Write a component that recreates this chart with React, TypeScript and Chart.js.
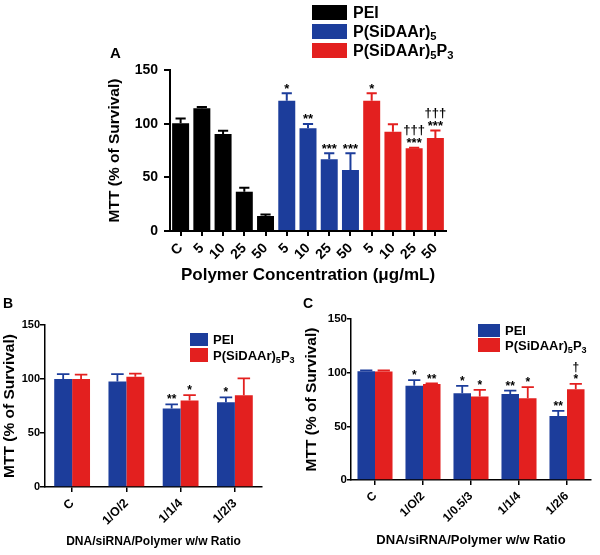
import React, { useEffect, useRef } from "react";
import { Chart, registerables } from "chart.js";
Chart.register(...registerables);

const FONT = "'Liberation Sans', Arial, Helvetica, sans-serif";
const BLACK = "#000000";
const BLUE = "#1c3d9b";
const RED = "#e3201f";

// ---------- Panel A ----------
const labelsA = ["C", "5", "10", "25", "50", "5", "10", "25", "50", "5", "10", "25", "50"];
const peiA = [100.3, 114.3, 90.4, 36.6, 14, null, null, null, null, null, null, null, null];
const peiErrA = [4.5, 1.2, 3, 3.7, 1.4, 0, 0, 0, 0, 0, 0, 0, 0];
const siA = [null, null, null, null, null, 121.4, 95.7, 66.8, 56.8, null, null, null, null];
const siErrA = [0, 0, 0, 0, 0, 7, 4, 5.6, 15.6, 0, 0, 0, 0];
const sipA = [null, null, null, null, null, null, null, null, null, 121.4, 92.5, 77, 86.6];
const sipErrA = [0, 0, 0, 0, 0, 0, 0, 0, 0, 7, 7, 0.5, 7];
const peiStarA = ["", "", "", "", "", "", "", "", "", "", "", "", ""];
const siStarA = ["", "", "", "", "", "*", "**", "***", "***", "", "", "", ""];
const sipStarA = ["", "", "", "", "", "", "", "", "", "*", "", "***", "***"];
const sipDagA = ["", "", "", "", "", "", "", "", "", "", "", "\u2020\u2020\u2020", "\u2020\u2020\u2020"];

// ---------- Panel B ----------
const labelsB = ["C", "1/O/2", "1/1/4", "1/2/3"];
const peiB = [100, 97.8, 72.8, 78.4];
const peiErrB = [4.5, 6.8, 3.7, 4.6];
const sipB = [100, 102, 80, 85];
const sipErrB = [4, 3, 5, 15.5];
const peiStarB = ["", "", "**", "*"];
const sipStarB = ["", "", "*", ""];

// ---------- Panel C ----------
const labelsC = ["C", "1/O/2", "1/0.5/3", "1/1/4", "1/2/6"];
const peiC = [101.4, 87.7, 80.9, 80.2, 59.7];
const peiErrC = [0.8, 5.3, 6.8, 3.1, 4.7];
const sipC = [101, 89.5, 77.7, 76.2, 84.6];
const sipErrC = [1, 0.4, 6.3, 10.3, 4.9];
const peiStarC = ["", "*", "*", "**", "**"];
const sipStarC = ["", "**", "*", "*", "*"];
const sipDagC = ["", "", "", "", "\u2020"];

const yTicks = [0, 50, 100, 150];

const errPlugin = {
  id: "errAnn",
  afterDatasetsDraw(chart: any, _args: any, opts: any) {
    const { ctx } = chart;
    const ys = chart.scales.y;
    ctx.save();
    chart.data.datasets.forEach((ds: any, di: number) => {
      const meta = chart.getDatasetMeta(di);
      const errs = (opts.errors && opts.errors[di]) || [];
      const stars = (opts.stars && opts.stars[di]) || [];
      const dags = (opts.daggers && opts.daggers[di]) || [];
      meta.data.forEach((bar: any, i: number) => {
        const v = ds.data[i];
        if (v == null) return;
        const e = errs[i] || 0;
        const x = bar.x;
        const w = bar.width;
        const yb = ys.getPixelForValue(v);
        const yt = ys.getPixelForValue(v + e);
        ctx.strokeStyle = ds.backgroundColor;
        ctx.lineWidth = opts.lineWidth;
        ctx.beginPath();
        ctx.moveTo(x, yb);
        ctx.lineTo(x, yt);
        ctx.moveTo(x - (w * opts.cap) / 2, yt);
        ctx.lineTo(x + (w * opts.cap) / 2, yt);
        ctx.stroke();
        ctx.fillStyle = BLACK;
        ctx.font = `bold ${opts.fontSize}px ${FONT}`;
        ctx.textAlign = "center";
        ctx.textBaseline = "alphabetic";
        const base = yt - opts.gap;
        if (stars[i]) ctx.fillText(stars[i], x, base);
        if (dags[i]) ctx.fillText(dags[i], x, base - opts.lineGap);
      });
    });
    ctx.restore();
  },
};

function axes(o: any) {
  return {
    x: {
      z: 1,
      grid: {
        display: true,
        drawOnChartArea: false,
        offset: false,
        drawTicks: true,
        tickLength: o.xTick,
        color: BLACK,
        lineWidth: o.lw,
      },
      border: { display: true, color: BLACK, width: o.lw },
      ticks: {
        autoSkip: false,
        minRotation: 45,
        maxRotation: 45,
        padding: o.xPad,
        color: BLACK,
        font: { family: FONT, size: o.xFont, weight: "bold" },
      },
      title: {
        display: true,
        text: o.xTitle,
        color: BLACK,
        font: { family: FONT, size: o.xTitleSize, weight: "bold" },
        padding: { top: 0, bottom: o.xTitlePad },
      },
      afterFit: (s: any) => {
        s.height = o.xH;
      },
    },
    y: {
      z: 1,
      min: 0,
      max: 150,
      afterBuildTicks: (s: any) => {
        s.ticks = yTicks.map((v) => ({ value: v }));
      },
      grid: {
        display: true,
        drawOnChartArea: false,
        drawTicks: true,
        tickLength: o.yTick,
        color: BLACK,
        lineWidth: o.lw,
      },
      border: { display: true, color: BLACK, width: o.lw },
      ticks: {
        padding: o.yPad,
        color: BLACK,
        font: { family: FONT, size: o.yFont, weight: "bold" },
      },
      title: {
        display: true,
        text: "MTT (% of Survival)",
        color: BLACK,
        font: { family: FONT, size: 15.5, weight: "bold" },
        padding: { top: o.yTitlePad, bottom: 0 },
      },
      afterFit: (s: any) => {
        s.width = o.yW;
      },
    },
  };
}

function buildA() {
  return {
    type: "bar",
    data: {
      labels: labelsA,
      datasets: [
        { label: "PEI", data: peiA, backgroundColor: BLACK },
        { label: "P(SiDAAr)5", data: siA, backgroundColor: BLUE },
        { label: "P(SiDAAr)5P3", data: sipA, backgroundColor: RED },
      ].map((d) => ({ ...d, skipNull: true, barPercentage: 0.8, categoryPercentage: 1, borderWidth: 0 })),
    },
    options: {
      responsive: false,
      animation: false,
      layout: { padding: { left: 0, top: 70, right: 154, bottom: 0 } },
      plugins: {
        legend: { display: false },
        tooltip: { enabled: false },
        errAnn: {
          errors: [peiErrA, siErrA, sipErrA],
          stars: [peiStarA, siStarA, sipStarA],
          daggers: [[], [], sipDagA],
          lineWidth: 2,
          cap: 0.6,
          fontSize: 13,
          gap: 0.5,
          lineGap: 13,
        },
      },
      scales: axes({
        lw: 2,
        xTick: 5,
        xPad: 4,
        xFont: 14,
        xTitle: "Polymer Concentration (\u03bcg/mL)",
        xTitleSize: 17,
        xTitlePad: 4.8,
        xH: 59,
        yTick: 6,
        yPad: 6,
        yFont: 14,
        yTitlePad: 105.7,
        yW: 170,
      }),
    },
    plugins: [errPlugin],
  };
}

function buildB() {
  return {
    type: "bar",
    data: {
      labels: labelsB,
      datasets: [
        { label: "PEI", data: peiB, backgroundColor: BLUE },
        { label: "P(SiDAAr)5P3", data: sipB, backgroundColor: RED },
      ].map((d) => ({ ...d, barPercentage: 1, categoryPercentage: 0.66, borderWidth: 0 })),
    },
    options: {
      responsive: false,
      animation: false,
      layout: { padding: { left: 0, top: 35, right: 38, bottom: 0 } },
      plugins: {
        legend: { display: false },
        tooltip: { enabled: false },
        errAnn: {
          errors: [peiErrB, sipErrB],
          stars: [peiStarB, sipStarB],
          daggers: [[], []],
          lineWidth: 1.8,
          cap: 0.7,
          fontSize: 12,
          gap: 1,
          lineGap: 11,
        },
      },
      scales: axes({
        lw: 1.5,
        xTick: 5,
        xPad: 4,
        xFont: 12.5,
        xTitle: "DNA/siRNA/Polymer w/w Ratio",
        xTitleSize: 12,
        xTitlePad: 6.1,
        xH: 68,
        yTick: 5,
        yPad: 0,
        yFont: 11,
        yTitlePad: 0,
        yW: 45,
      }),
    },
    plugins: [errPlugin],
  };
}

function buildC() {
  return {
    type: "bar",
    data: {
      labels: labelsC,
      datasets: [
        { label: "PEI", data: peiC, backgroundColor: BLUE },
        { label: "P(SiDAAr)5P3", data: sipC, backgroundColor: RED },
      ].map((d) => ({ ...d, barPercentage: 1, categoryPercentage: 0.73, borderWidth: 0 })),
    },
    options: {
      responsive: false,
      animation: false,
      layout: { padding: { left: 0, top: 29, right: 9, bottom: 0 } },
      plugins: {
        legend: { display: false },
        tooltip: { enabled: false },
        errAnn: {
          errors: [peiErrC, sipErrC],
          stars: [peiStarC, sipStarC],
          daggers: [[], sipDagC],
          lineWidth: 1.8,
          cap: 0.7,
          fontSize: 12,
          gap: 1,
          lineGap: 11.5,
        },
      },
      scales: axes({
        lw: 1.5,
        xTick: 5,
        xPad: 4,
        xFont: 12,
        xTitle: "DNA/siRNA/Polymer w/w Ratio",
        xTitleSize: 13,
        xTitlePad: 7.2,
        xH: 75,
        yTick: 4,
        yPad: 0,
        yFont: 11.5,
        yTitlePad: 2.7,
        yW: 51,
      }),
    },
    plugins: [errPlugin],
  };
}

function ChartCanvas({ left, top, width, height, build }: any) {
  const ref = useRef<HTMLCanvasElement>(null);
  useEffect(() => {
    const c = new Chart(ref.current as HTMLCanvasElement, build() as any);
    return () => c.destroy();
  }, []);
  return (
    <canvas
      ref={ref}
      width={width}
      height={height}
      style={{ position: "absolute", left, top, width, height }}
    />
  );
}

const subStyle: React.CSSProperties = { fontSize: "0.7em", verticalAlign: "-0.3em", lineHeight: 0 };

function LegendRow({ left, top, boxW, boxH, color, size, gap, children }: any) {
  return (
    <div
      style={{
        position: "absolute",
        left,
        top,
        height: boxH,
        display: "flex",
        alignItems: "center",
        whiteSpace: "nowrap",
        fontFamily: FONT,
        fontWeight: "bold",
        fontSize: size,
        color: BLACK,
      }}
    >
      <div style={{ width: boxW, height: boxH, background: color, marginRight: gap }} />
      <span style={{ lineHeight: 1 }}>{children}</span>
    </div>
  );
}

const SiP5 = () => (
  <>
    P(SiDAAr)<span style={subStyle}>5</span>
  </>
);
const SiP5P3 = () => (
  <>
    P(SiDAAr)<span style={subStyle}>5</span>P<span style={subStyle}>3</span>
  </>
);

const panelLabel = (text: string, left: number, top: number, size: number) => (
  <div
    style={{
      position: "absolute",
      left,
      top,
      fontFamily: FONT,
      fontWeight: "bold",
      fontSize: size,
      lineHeight: 1,
      color: BLACK,
    }}
  >
    {text}
  </div>
);

export default function App() {
  return (
    <div
      style={{
        position: "fixed",
        left: 0,
        top: 0,
        width: 600,
        height: 555,
        background: "#fff",
        overflow: "hidden",
      }}
    >
      <ChartCanvas left={0} top={0} width={600} height={290} build={buildA} />
      <ChartCanvas left={0} top={290} width={300} height={265} build={buildB} />
      <ChartCanvas left={300} top={290} width={300} height={265} build={buildC} />

      {panelLabel("A", 110, 45, 15)}
      {panelLabel("B", 3, 296, 14)}
      {panelLabel("C", 303, 296, 14)}

      <LegendRow left={312} top={5} boxW={35} boxH={15} color={BLACK} size={16} gap={6}>
        PEI
      </LegendRow>
      <LegendRow left={312} top={24} boxW={35} boxH={15} color={BLUE} size={16} gap={6}>
        <SiP5 />
      </LegendRow>
      <LegendRow left={312} top={43} boxW={35} boxH={15} color={RED} size={16} gap={6}>
        <SiP5P3 />
      </LegendRow>

      <LegendRow left={190} top={333} boxW={18} boxH={13} color={BLUE} size={13} gap={5}>
        PEI
      </LegendRow>
      <LegendRow left={190} top={348} boxW={18} boxH={14} color={RED} size={13} gap={5}>
        <SiP5P3 />
      </LegendRow>

      <LegendRow left={478} top={324} boxW={22} boxH={13} color={BLUE} size={13} gap={5}>
        PEI
      </LegendRow>
      <LegendRow left={478} top={338} boxW={22} boxH={14} color={RED} size={13} gap={5}>
        <SiP5P3 />
      </LegendRow>
    </div>
  );
}
